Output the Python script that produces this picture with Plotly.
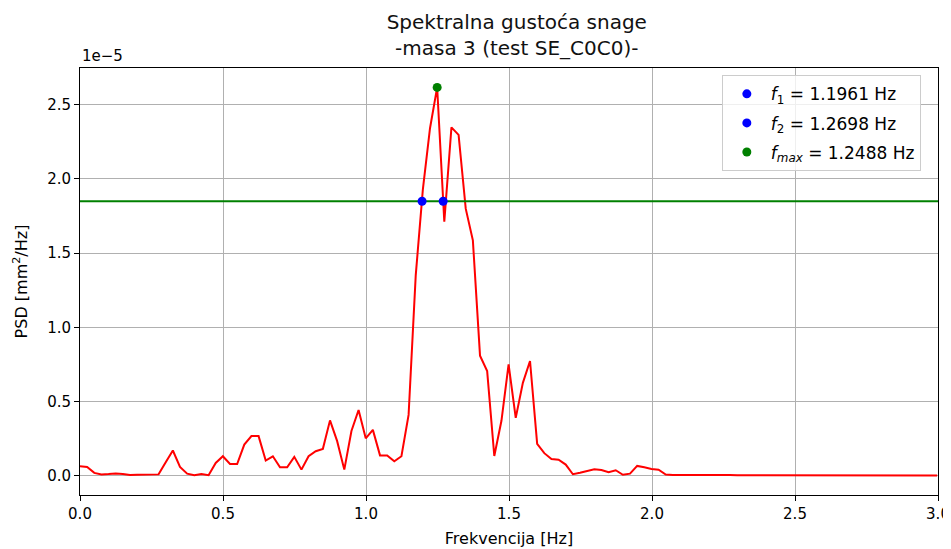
import plotly.graph_objects as go

# PSD values in units of 1e-5 mm^2/Hz, one per frequency bin (bin width DF)
DF = 0.024976
psd = [0.063, 0.059, 0.019, 0.009, 0.011, 0.015, 0.011, 0.005, 0.007, 0.009,
       0.009, 0.009, 0.090, 0.170, 0.059, 0.014, 0.003, 0.011, 0.003, 0.086,
       0.131, 0.079, 0.079, 0.210, 0.267, 0.267, 0.102, 0.131, 0.057, 0.057,
       0.127, 0.041, 0.131, 0.165, 0.181, 0.373, 0.233, 0.041, 0.301, 0.443,
       0.252, 0.309, 0.137, 0.137, 0.097, 0.131, 0.410, 1.350, 1.930, 2.342,
       2.617, 1.712, 2.348, 2.297, 1.800, 1.586, 0.809, 0.705, 0.133, 0.370,
       0.750, 0.390, 0.626, 0.773, 0.214, 0.152, 0.113, 0.108, 0.075, 0.010,
       0.020, 0.032, 0.043, 0.038, 0.023, 0.037, 0.006, 0.014, 0.066, 0.057,
       0.045, 0.040, 0.008, 0.004, 0.003, 0.003, 0.004, 0.005, 0.006, 0.006,
       0.005, 0.004, 0.003, 0.003, 0.003, 0.003, 0.002, 0.002, 0.002, 0.002,
       0.002, 0.002, 0.002, 0.002, 0.002, 0.002, 0.002, 0.002, 0.002, 0.002,
       0.002, 0.002, 0.002, 0.002, 0.001, 0.001, 0.001, 0.001, 0.001, 0.001,
       0.001]
freq = [round(k * DF, 5) for k in range(len(psd))]

# half-power level and the marked frequencies
threshold = 1.85
f1 = 1.1961
f2 = 1.2698
fmax = 1.2488
psd_max = 2.617

xticks = [0.0, 0.5, 1.0, 1.5, 2.0, 2.5, 3.0]
yticks = [0.0, 0.5, 1.0, 1.5, 2.0, 2.5]

FONT = "DejaVu Sans"

fig = go.Figure()

fig.add_trace(go.Scatter(x=freq, y=psd, mode="lines", line=dict(color="#ff0000", width=2),
                         showlegend=False, hoverinfo="skip"))
fig.add_trace(go.Scatter(x=[0, 3], y=[threshold, threshold], mode="lines",
                         line=dict(color="#008000", width=2), showlegend=False))
fig.add_trace(go.Scatter(x=[f1], y=[threshold], mode="markers",
                         marker=dict(color="#0000ff", size=9),
                         name="<i>f</i><sub>1</sub> = %.4f Hz" % f1, legendgroup="a"))
fig.add_trace(go.Scatter(x=[f2], y=[threshold], mode="markers",
                         marker=dict(color="#0000ff", size=9),
                         name="<i>f</i><sub>2</sub> = %.4f Hz" % f2, legendgroup="b"))
fig.add_trace(go.Scatter(x=[fmax], y=[psd_max], mode="markers",
                         marker=dict(color="#008000", size=9),
                         name="<i>f</i><sub><i>max</i></sub> = %.4f Hz" % fmax, legendgroup="c"))

axis_style = dict(showline=True, linecolor="black", linewidth=1, mirror=True,
                  ticks="outside", ticklen=5, tickcolor="black", automargin=False,
                  showgrid=True, gridcolor="#b0b0b0", gridwidth=1, zeroline=False,
                  tickfont=dict(size=15, color="black"))

fig.update_xaxes(range=[0, 3], tickvals=xticks, tickformat=".1f",
                 title=dict(text="Frekvencija [Hz]", font=dict(size=16), standoff=10),
                 **axis_style)
fig.update_yaxes(range=[-0.130, 2.748], tickvals=yticks, tickformat=".1f",
                 title=dict(text="PSD [mm<sup>2</sup>/Hz]", font=dict(size=16), standoff=15),
                 **axis_style)

fig.add_annotation(text="1e\u22125", xref="paper", yref="paper", x=0, y=1,
                   xanchor="left", yanchor="bottom", showarrow=False,
                   font=dict(size=15, color="black"), yshift=1)

# the page puts the figure 8 px in from the top-left corner, so the margins allow for it
fig.update_layout(
    width=951, height=549,
    margin=dict(l=72, r=21, t=60, b=62, autoexpand=False),
    paper_bgcolor="white", plot_bgcolor="white",
    font=dict(family=FONT, color="black"),
    title=dict(text="Spektralna gustoća snage<br>-masa 3 (test SE_C0C0)-",
               x=0.535, xanchor="center", yref="container", y=0.962, yanchor="top",
               font=dict(size=20, color="#111111")),
    legend=dict(x=0.98, y=0.983, xanchor="right", yanchor="top",
                bgcolor="rgba(255,255,255,0.8)", bordercolor="#cccccc", borderwidth=1,
                font=dict(size=17, color="black"), tracegroupgap=4, itemwidth=38),
)

fig.write_html("out.html")
